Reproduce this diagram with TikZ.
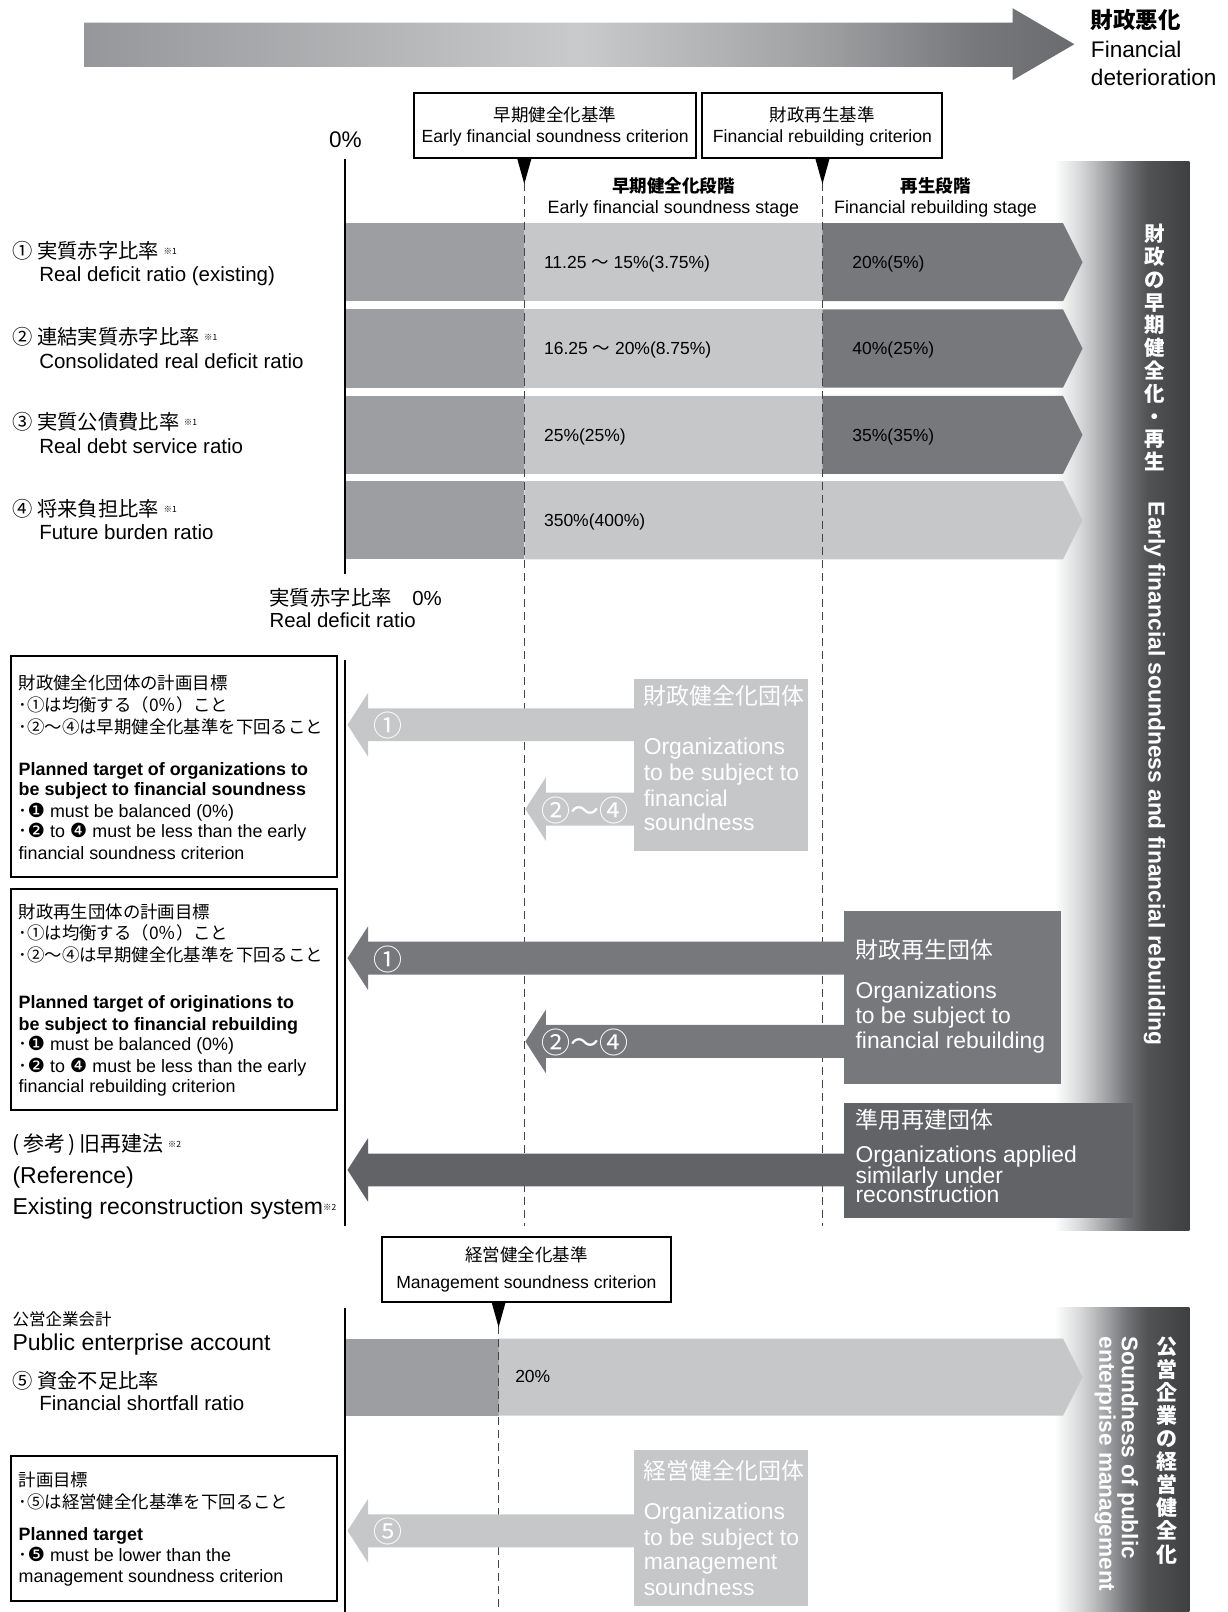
\documentclass[tikz,border=0pt]{standalone}
\usepackage{fontspec}
\setmainfont{Liberation Sans}
\newfontfamily\jp{Noto Sans CJK JP}
\newfontfamily\dvs{DejaVu Sans}
\newcommand\fsz[1]{\fontsize{#1}{#1}\selectfont}
\newcommand\blt[1]{{\jp ･}{\dvs\fsz{19.5}#1}}
\definecolor{gA}{HTML}{9D9EA1}
\definecolor{gL}{HTML}{C6C7C9}
\definecolor{gD}{HTML}{77787B}
\definecolor{gE}{HTML}{626366}
\definecolor{dashc}{HTML}{444444}
\definecolor{b2}{HTML}{D8D9DA}
\definecolor{b3}{HTML}{A4A5A7}
\definecolor{b4}{HTML}{717275}
\definecolor{b5}{HTML}{525355}
\definecolor{b6}{HTML}{3E3F41}
\definecolor{t1}{HTML}{96979A}
\definecolor{t2}{HTML}{B4B5B7}
\definecolor{t3}{HTML}{C9CACC}
\definecolor{t4}{HTML}{A0A1A3}
\definecolor{t5}{HTML}{77787B}
\definecolor{t6}{HTML}{6A6B6E}
\pgfdeclarehorizontalshading{bandshade}{100bp}{color(0bp)=(white); color(27bp)=(white); color(36bp)=(b2); color(45bp)=(b3); color(53bp)=(b4); color(60bp)=(b5); color(75bp)=(b6); color(100bp)=(b6)}
\pgfdeclarehorizontalshading{topshade}{100bp}{color(0bp)=(t1); color(25bp)=(t1); color(40bp)=(t2); color(50bp)=(t3); color(62bp)=(t4); color(70bp)=(t5); color(75bp)=(t6); color(100bp)=(t6)}
\newcommand\mybar[3]{%
  \fill[gA] (336,#1) rectangle (510,#2);
  \fill[gL] (510,#1) rectangle (800,#2);
  \fill[#3] (800,#1) -- (1034,#1) -- (1053,{(#1+#2)/2}) -- (1034,#2) -- (800,#2) -- cycle;}
\newcommand\myarrow[4]{%
  \fill[#4] (#1,#2) -- ({#1+20},{#2-31}) -- ({#1+20},{#2-16}) -- (#3,{#2-16}) -- (#3,{#2+16}) -- ({#1+20},{#2+16}) -- ({#1+20},{#2+31}) -- cycle;}
\begin{document}
\begin{tikzpicture}[x=1.0285pt,y=-1.0285pt,
  txt/.style={inner sep=0pt, anchor=base west},
  ctr/.style={inner sep=0pt, anchor=base},
  wtxt/.style={inner sep=0pt, anchor=base west, text=white},
  circ/.style={inner sep=0pt, text=white, font=\jp\fsz{29}},
  crit/.style={draw=black, line width=2pt, fill=white},
  tbox/.style={draw=black, line width=2.2pt},
  dsh/.style={draw=dashc, line width=1pt, dash pattern=on 8pt off 5pt},
  vline/.style={draw=black, line width=2pt},
  ]
\useasboundingbox (0,0) rectangle (1194,1568);
% ---------- top arrow
\shade[shading=topshade] (82,22) -- (985,22) -- (985,8) -- (1045,43) -- (985,78) -- (985,65) -- (82,65) -- cycle;
\node[txt, font=\jp\bfseries\fsz{22.5}] (deta) at (1061,28) {財政悪化};
\node[txt, font=\fsz{22.6}] (detb) at (1061,56) {Financial};
\node[txt, font=\fsz{22.6}] (detc) at (1061,83) {deterioration};
% ---------- right bands
\shade[shading=bandshade] (1020,157) rectangle (1157,1197);
\shade[shading=bandshade] (1020,1272) rectangle (1157,1568);
% ---------- bars
\mybar{217}{293}{gD}
\mybar{301}{377}{gD}
\mybar{385}{461}{gD}
\fill[gA] (336,468) rectangle (510,544);
\fill[gL] (510,468) -- (1034,468) -- (1053,506) -- (1034,544) -- (510,544) -- cycle;
\fill[gA] (336,1302) rectangle (485,1377);
\fill[gL] (485,1302) -- (1034,1302) -- (1053,1339.5) -- (1034,1377) -- (485,1377) -- cycle;
% ---------- dashed criterion lines
\draw[dsh] (510,178) -- (510,1193);
\draw[dsh] (800,178) -- (800,1193);
\draw[dsh] (485,1290) -- (485,1568);
% ---------- criterion boxes
\draw[crit] (403,90) rectangle (677,154);
\draw[crit] (683,90) rectangle (916,154);
\draw[crit] (372,1203) rectangle (653,1266);
\fill (503,154) -- (517,154) -- (510,179) -- cycle;
\fill (793,154) -- (807,154) -- (800,179) -- cycle;
\fill (478,1266) -- (492,1266) -- (485,1291) -- cycle;
\node[ctr, font=\jp\fsz{17.5}] (c1j) at (540,118) {早期健全化基準};
\node[ctr, font=\fsz{17.6}] (c1e) at (540,139) {Early financial soundness criterion};
\node[ctr, font=\jp\fsz{17.5}] (c2j) at (800,118) {財政再生基準};
\node[ctr, font=\fsz{17.6}] (c2e) at (800,139) {Financial rebuilding criterion};
\node[ctr, font=\jp\fsz{17.5}] (c3j) at (512,1227) {経営健全化基準};
\node[ctr, font=\fsz{17.6}] (c3e) at (512,1253) {Management soundness criterion};
\node[ctr, font=\fsz{22.6}] (zero) at (336,143) {0\%};
% ---------- stage labels
\node[ctr, font=\jp\bfseries\fsz{17.5}] (s1j) at (655,187) {早期健全化段階};
\node[ctr, font=\fsz{17.9}] (s1e) at (655,208) {Early financial soundness stage};
\node[ctr, font=\jp\bfseries\fsz{17.5}] (s2j) at (910,187) {再生段階};
\node[ctr, font=\fsz{17.9}] (s2e) at (910,208) {Financial rebuilding stage};
% ---------- values
\node[txt, font=\fsz{17.5}] (v1a) at (529,261) {11.25 {\jp ～} 15\%(3.75\%)};
\node[txt, font=\fsz{17.5}] (v1b) at (829,261) {20\%(5\%)};
\node[txt, font=\fsz{17.5}] (v2a) at (529,345) {16.25 {\jp ～} 20\%(8.75\%)};
\node[txt, font=\fsz{17.5}] (v2b) at (829,345) {40\%(25\%)};
\node[txt, font=\fsz{17.5}] (v3a) at (529,429) {25\%(25\%)};
\node[txt, font=\fsz{17.5}] (v3b) at (829,429) {35\%(35\%)};
\node[txt, font=\fsz{17.5}] (v4a) at (529,512) {350\%(400\%)};
\node[txt, font=\fsz{17.5}] (v5a) at (501,1345) {20\%};
% ---------- left labels
\node[txt, font=\jp\fsz{20.3}] (l1j) at (12,251) {① 実質赤字比率 \raisebox{4pt}{\fsz{8.5}※1}};
\node[txt, font=\fsz{20.5}] (l1e) at (38,274) {Real deficit ratio (existing)};
\node[txt, font=\jp\fsz{20.3}] (l2j) at (12,335) {② 連結実質赤字比率 \raisebox{4pt}{\fsz{8.5}※1}};
\node[txt, font=\fsz{20.5}] (l2e) at (38,358) {Consolidated real deficit ratio};
\node[txt, font=\jp\fsz{20.3}] (l3j) at (12,418) {③ 実質公債費比率 \raisebox{4pt}{\fsz{8.5}※1}};
\node[txt, font=\fsz{20.5}] (l3e) at (38,441) {Real debt service ratio};
\node[txt, font=\jp\fsz{20.3}] (l4j) at (12,502) {④ 将来負担比率 \raisebox{4pt}{\fsz{8.5}※1}};
\node[txt, font=\fsz{20.5}] (l4e) at (38,525) {Future burden ratio};
\node[txt, font=\fsz{20.4}] (rdj) at (262,589) {{\jp 実質赤字比率　}0\%};
\node[txt, font=\fsz{20.4}] (rde) at (262,610) {Real deficit ratio};
% ---------- box A
\draw[tbox] (11,638) rectangle (328,853);
\node[txt, font=\jp\fsz{17.4}] (a1) at (18,671) {財政健全化団体の計画目標};
\node[txt, font=\jp\fsz{17.4}] (a2) at (18,692) {･①は均衡する（0％）こと};
\node[txt, font=\jp\fsz{17.4}] (a3) at (18,713) {･②～④は早期健全化基準を下回ること};
\node[txt, font=\bfseries\fsz{17.9}] (a4) at (18,754) {Planned target of organizations to};
\node[txt, font=\bfseries\fsz{17.9}] (a5) at (18,774) {be subject to financial soundness};
\node[txt, font=\fsz{17.9}] (a6) at (18,795) {\blt{❶} must be balanced (0\%)};
\node[txt, font=\fsz{17.9}] (a7) at (18,815) {\blt{❷} to {\dvs\fsz{19.5}❹} must be less than the early};
\node[txt, font=\fsz{17.9}] (a8) at (18,836) {financial soundness criterion};
% ---------- box B
\draw[tbox] (11,865) rectangle (328,1080);
\node[txt, font=\jp\fsz{17.4}] (b1) at (18,893) {財政再生団体の計画目標};
\node[txt, font=\jp\fsz{17.4}] (b2) at (18,914) {･①は均衡する（0％）こと};
\node[txt, font=\jp\fsz{17.4}] (b3) at (18,935) {･②～④は早期健全化基準を下回ること};
\node[txt, font=\bfseries\fsz{17.9}] (b4) at (18,981) {Planned target of originations to};
\node[txt, font=\bfseries\fsz{17.9}] (b5) at (18,1002) {be subject to financial rebuilding};
\node[txt, font=\fsz{17.9}] (b6) at (18,1022) {\blt{❶} must be balanced (0\%)};
\node[txt, font=\fsz{17.9}] (b7) at (18,1043) {\blt{❷} to {\dvs\fsz{19.5}❹} must be less than the early};
\node[txt, font=\fsz{17.9}] (b8) at (18,1063) {financial rebuilding criterion};
% ---------- reference
\node[txt, font=\jp\fsz{21}] (r1) at (12,1120) {(\,参考\,)\,旧再建法 \raisebox{4pt}{\fsz{8.5}※2}};
\node[txt, font=\fsz{23}] (r2) at (12,1151) {(Reference)};
\node[txt, font=\fsz{23}] (r3) at (12,1181) {Existing reconstruction system\raisebox{4pt}{\jp\fsz{8.5}※2}};
% ---------- public enterprise
\node[txt, font=\jp\fsz{16.5}] (p1) at (12,1289) {公営企業会計};
\node[txt, font=\fsz{23}] (p2) at (12,1314) {Public enterprise account};
\node[txt, font=\jp\fsz{20.3}] (p3) at (12,1351) {⑤ 資金不足比率};
\node[txt, font=\fsz{20.5}] (p4) at (38,1372) {Financial shortfall ratio};
% ---------- box C
\draw[tbox] (11,1416) rectangle (328,1557);
\node[txt, font=\jp\fsz{17.4}] (e1) at (18,1446) {計画目標};
\node[txt, font=\jp\fsz{17.4}] (e2) at (18,1467) {･⑤は経営健全化基準を下回ること};
\node[txt, font=\bfseries\fsz{17.9}] (e3) at (18,1498) {Planned target};
\node[txt, font=\fsz{17.9}] (e4) at (18,1519) {\blt{❺} must be lower than the};
\node[txt, font=\fsz{17.9}] (e5) at (18,1539) {management soundness criterion};
% ---------- arrows group A (light)
\myarrow{338}{705}{617}{gL}
\myarrow{511}{787}{617}{gL}
\fill[gL] (617,660) rectangle (786,828);
\node[wtxt, font=\jp\fsz{22.9}] (ga1) at (626,685) {財政健全化団体};
\node[wtxt, font=\fsz{22.9}] (ga2) at (626,734) {Organizations};
\node[wtxt, font=\fsz{22.9}] (ga3) at (626,759) {to be subject to};
\node[wtxt, font=\fsz{22.9}] (ga4) at (626,784) {financial};
\node[wtxt, font=\fsz{22.9}] (ga5) at (626,808) {soundness};
\node[circ] (na1) at (377,706) {①};
\node[circ] (na2) at (569,788) {②～④};
% ---------- arrows group B (dark)
\myarrow{338}{932}{821}{gD}
\myarrow{511}{1013}{821}{gD}
\fill[gD] (821,886) rectangle (1032,1054);
\node[wtxt, font=\jp\fsz{22.9}] (gb1) at (832,932) {財政再生団体};
\node[wtxt, font=\fsz{22.9}] (gb2) at (832,971) {Organizations};
\node[wtxt, font=\fsz{22.9}] (gb3) at (832,996) {to be subject to};
\node[wtxt, font=\fsz{22.9}] (gb4) at (832,1020) {financial rebuilding};
\node[circ] (nb1) at (377,933) {①};
\node[circ] (nb2) at (569,1014) {②～④};
% ---------- arrow group C (darker)
\myarrow{338}{1138}{821}{gE}
\fill[gE] (821,1073) rectangle (1102,1185);
\node[wtxt, font=\jp\fsz{22.9}] (gc1) at (832,1098) {準用再建団体};
\node[wtxt, font=\fsz{22.9}] (gc2) at (832,1131) {Organizations applied};
\node[wtxt, font=\fsz{22.9}] (gc3) at (832,1151) {similarly under};
\node[wtxt, font=\fsz{22.9}] (gc4) at (832,1170) {reconstruction};
% ---------- arrow group D (light, lower)
\myarrow{338}{1489}{617}{gL}
\fill[gL] (617,1410) rectangle (786,1562);
\node[wtxt, font=\jp\fsz{22.9}] (gd1) at (626,1439) {経営健全化団体};
\node[wtxt, font=\fsz{22.9}] (gd2) at (626,1478) {Organizations};
\node[wtxt, font=\fsz{22.9}] (gd3) at (626,1503) {to be subject to};
\node[wtxt, font=\fsz{22.9}] (gd4) at (626,1527) {management};
\node[wtxt, font=\fsz{22.9}] (gd5) at (626,1552) {soundness};
\node[circ] (nd1) at (377,1490) {⑤};
% ---------- vertical axis lines
\draw[vline] (336,155) -- (336,558);
\draw[vline] (336,642) -- (336,1193);
\draw[vline] (336,1272) -- (336,1568);
% ---------- band texts
\node[inner sep=0, anchor=north, align=center, text=white, font=\jp\bfseries\fontsize{20.5}{22.8}\selectfont] (bj1) at (1123,218) {財\\政\\の\\早\\期\\健\\全\\化\\・\\再\\生};
\node[inner sep=0, anchor=west, rotate=-90, text=white, font=\bfseries\fsz{22.8}] (be1) at (1123,488) {Early financial soundness and financial rebuilding};
\node[inner sep=0, anchor=north, align=center, text=white, font=\jp\bfseries\fontsize{21}{23.1}\selectfont] (bj2) at (1135,1300) {公\\営\\企\\業\\の\\経\\営\\健\\全\\化};
\node[inner sep=0, anchor=west, rotate=-90, text=white, font=\bfseries\fsz{22.6}] (be2) at (1097,1300) {Soundness of public};
\node[inner sep=0, anchor=west, rotate=-90, text=white, font=\bfseries\fsz{22.6}] (be3) at (1075,1300) {enterprise management};
\end{tikzpicture}
\end{document}
